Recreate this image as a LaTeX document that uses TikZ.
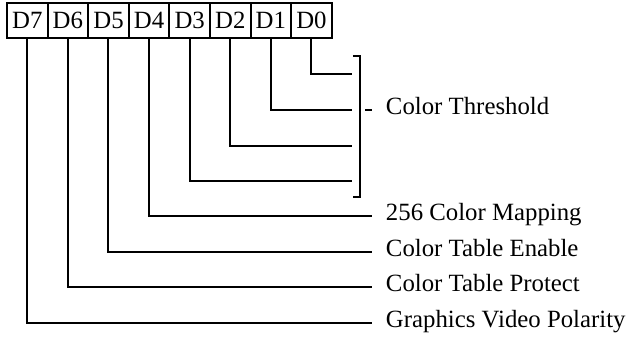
\documentclass[tikz,border=0pt]{standalone}
\usepackage{fontspec}
\setmainfont{Liberation Serif}
\usetikzlibrary{positioning}

\begin{document}
\begin{tikzpicture}[x=0.5pt, y=-0.5pt, line width=1pt]
    % Define styles
    \tikzset{
        bitbox/.style={draw, minimum width=20.3pt, minimum height=17.5pt, inner sep=0pt, outer sep=0pt, font=\fontsize{12.4}{14}\selectfont},
        fieldtext/.style={anchor=west, inner xsep=6.5pt, inner ysep=0pt, text height=0.7em, text depth=0.25em, font=\fontsize{12.4}{14}\selectfont}
    }

    % Define bracket position
    \def\brX{360}
    \def\brTop{56}
    \def\brBot{197}

    % Fix picture size
    \useasboundingbox (0,0) rectangle (629,337);

    % Draw register bits
    \node[bitbox, anchor=north west] (d7) at (7,3) {D7};
    \foreach \b [evaluate=\b as \p using int(\b+1)] in {6,...,0}
        \node[bitbox, right=0pt of d\p] (d\b) {D\b};

    % Place field labels
    \node[fieldtext] (thresh) at (372,110) {Color Threshold};
    \node[fieldtext] (map) at (372,216) {256 Color Mapping};
    \node[fieldtext] (enable) at (372,252) {Color Table Enable};
    \node[fieldtext] (protect) at (372,287) {Color Table Protect};
    \node[fieldtext] (polarity) at (372,323) {Graphics Video Polarity};

    % Ends of the threshold lines
    \coordinate (t0) at (352,74);
    \coordinate (t1) at (352,110);
    \coordinate (t2) at (352,146);
    \coordinate (t3) at (352,181);

    % Draw threshold bits and bracket
    \foreach \b in {0,...,3}
        \draw (d\b.south) |- (t\b);
    \draw (\brX-7,\brTop) -- (\brX,\brTop) -- (\brX,\brBot) -- (\brX-7,\brBot);
    \draw (thresh.west) -- ++(-7,0);

    % Draw remaining bits
    \draw (d4.south) |- (map.west);
    \draw (d5.south) |- (enable.west);
    \draw (d6.south) |- (protect.west);
    \draw (d7.south) |- (polarity.west);

\end{tikzpicture}
\end{document}
